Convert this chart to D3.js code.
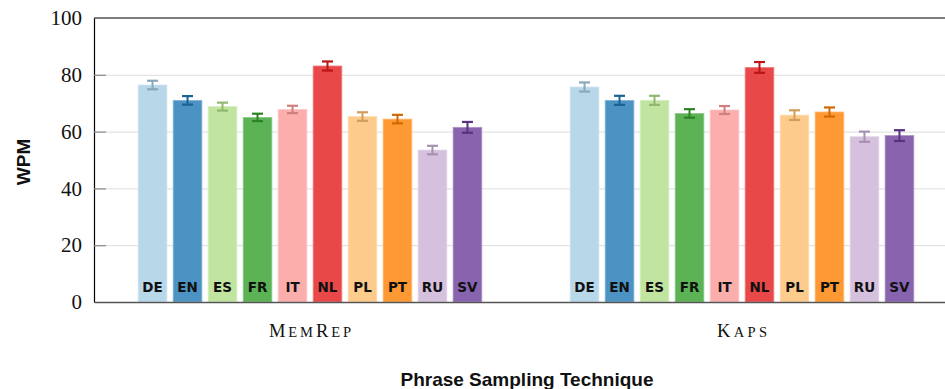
<!DOCTYPE html>
<html>
<head>
<meta charset="utf-8">
<script src="https://cdn.jsdelivr.net/npm/d3@7"></script>
<style>
  html, body { margin: 0; padding: 0; background: #fff; }
  svg { display: block; }
</style>
</head>
<body>
<svg id="chart" width="945" height="389"></svg>
<script>
// Typing speed per language, grouped by phrase sampling technique
const techniques = ["MemRep", "Kaps"];
const languages = ["DE", "EN", "ES", "FR", "IT", "NL", "PL", "PT", "RU", "SV"];
const memrepWpm = [76.4, 71.0, 68.8, 65.0, 67.8, 83.1, 65.3, 64.4, 53.5, 61.5];
const memrepErr = [1.5, 1.5, 1.4, 1.3, 1.3, 1.6, 1.5, 1.5, 1.5, 1.9];
const kapsWpm = [75.7, 71.0, 71.0, 66.4, 67.6, 82.6, 65.8, 66.9, 58.2, 58.6];
const kapsErr = [1.6, 1.6, 1.6, 1.5, 1.4, 1.9, 1.7, 1.6, 1.8, 1.9];
const yTicks = [0, 20, 40, 60, 80, 100];
const palette = ["#a6cee3", "#1f78b4", "#b2df8a", "#33a02c", "#fb9a99",
                 "#e31a1c", "#fdbf6f", "#ff7f00", "#cab2d6", "#6a3d9a"];

const series = {
  MemRep: { mean: memrepWpm, err: memrepErr },
  Kaps: { mean: kapsWpm, err: kapsErr }
};

const margin = { left: 94, top: 18, right: 958, bottom: 302 };
const svg = d3.select("#chart");

const x0 = d3.scaleBand().domain(techniques)
  .range([margin.left, margin.right]).paddingInner(0.19).paddingOuter(0.095);
const x1 = d3.scaleBand().domain(languages)
  .range([0, x0.bandwidth()]).paddingInner(0.18).paddingOuter(0.09);
const y = d3.scaleLinear().domain([0, 100]).range([margin.bottom, margin.top]);
const color = d3.scaleOrdinal().domain(languages).range(palette);

const fillOf = l => d3.interpolateRgb("#ffffff", color(l))(0.8);
const errOf = l => d3.color(color(l)).darker(0.55).formatHex();

// horizontal grid
svg.append("g")
  .attr("transform", `translate(${margin.left},0)`)
  .call(d3.axisLeft(y).tickValues(yTicks.slice(1, -1))
    .tickSize(-(margin.right - margin.left)).tickFormat(""))
  .call(g => g.select(".domain").remove())
  .call(g => g.selectAll("line").attr("stroke", "#dcdcdc").attr("stroke-width", 1));

// bars
const rows = techniques.flatMap(t => languages.map((l, i) => ({
  tech: t, lang: l, mean: series[t].mean[i], err: series[t].err[i]
})));

const bar = svg.append("g").selectAll("g").data(rows).join("g")
  .attr("transform", d => `translate(${x0(d.tech) + x1(d.lang)},0)`);

bar.append("rect")
  .attr("x", 0)
  .attr("width", x1.bandwidth())
  .attr("y", d => y(d.mean))
  .attr("height", d => y(0) - y(d.mean))
  .attr("fill", d => fillOf(d.lang))
  .attr("stroke", d => d3.interpolateRgb("#ffffff", color(d.lang))(0.55))
  .attr("stroke-width", 0.8);

// error bars
const cap = 5.5;
const cx = x1.bandwidth() / 2;
bar.append("line")
  .attr("x1", cx).attr("x2", cx)
  .attr("y1", d => y(d.mean + d.err)).attr("y2", d => y(d.mean - d.err))
  .attr("stroke", d => errOf(d.lang)).attr("stroke-width", 2);
bar.append("line")
  .attr("x1", cx - cap).attr("x2", cx + cap)
  .attr("y1", d => y(d.mean + d.err)).attr("y2", d => y(d.mean + d.err))
  .attr("stroke", d => errOf(d.lang)).attr("stroke-width", 2.2);
bar.append("line")
  .attr("x1", cx - cap).attr("x2", cx + cap)
  .attr("y1", d => y(d.mean - d.err)).attr("y2", d => y(d.mean - d.err))
  .attr("stroke", d => errOf(d.lang)).attr("stroke-width", 2.2);

// language labels at the foot of each bar
bar.append("text")
  .attr("x", cx).attr("y", y(0) - 10.5)
  .attr("text-anchor", "middle")
  .attr("font-family", "'DejaVu Sans', sans-serif")
  .attr("font-weight", "bold")
  .attr("font-size", 13.5)
  .attr("fill", "#111")
  .text(d => d.lang);

// top frame line
svg.append("line")
  .attr("x1", margin.left).attr("x2", margin.right)
  .attr("y1", margin.top).attr("y2", margin.top)
  .attr("stroke", "#000").attr("stroke-width", 1.2);

// y axis
svg.append("g")
  .attr("transform", `translate(${margin.left},0)`)
  .call(d3.axisLeft(y).tickValues(yTicks).tickSizeInner(-12).tickSizeOuter(0).tickPadding(12))
  .call(g => g.select(".domain").attr("stroke", "#000").attr("stroke-width", 1.2))
  .call(g => g.selectAll(".tick line").attr("stroke", "#8a8a8a").attr("stroke-width", 1.2))
  .call(g => g.selectAll(".tick").filter(d => d === 0 || d === 100).select("line").remove())
  .call(g => g.selectAll(".tick text")
    .attr("font-family", "'Liberation Serif', 'Times New Roman', serif")
    .attr("font-size", 21).attr("fill", "#111"));

// x axis with small-caps technique names
svg.append("g")
  .attr("transform", `translate(0,${margin.bottom})`)
  .call(d3.axisBottom(x0).tickSize(0).tickFormat(""))
  .call(g => g.select(".domain").attr("stroke", "#555").attr("stroke-width", 1.6));

const labelWidth = { MemRep: 82, Kaps: 50 };
techniques.forEach(t => {
  const txt = svg.append("text")
    .attr("x", x0(t) + x0.bandwidth() / 2)
    .attr("y", 337)
    .attr("text-anchor", "middle")
    .attr("font-family", "'Liberation Serif', 'Times New Roman', serif")
    .attr("fill", "#111")
    .attr("textLength", labelWidth[t])
    .attr("lengthAdjust", "spacing");
  [...t].forEach(ch => {
    const upper = ch === ch.toUpperCase();
    txt.append("tspan")
      .attr("font-size", upper ? 18.5 : 14.5)
      .text(ch.toUpperCase());
  });
});

// axis titles
svg.append("text")
  .attr("transform", "translate(30,162) rotate(-90)")
  .attr("text-anchor", "middle")
  .attr("font-family", "'Liberation Sans', Arial, sans-serif")
  .attr("font-weight", "bold")
  .attr("font-size", 19)
  .attr("fill", "#111")
  .text("WPM");

svg.append("text")
  .attr("x", 527).attr("y", 386)
  .attr("text-anchor", "middle")
  .attr("font-family", "'Liberation Sans', Arial, sans-serif")
  .attr("font-weight", "bold")
  .attr("font-size", 19)
  .attr("fill", "#111")
  .text("Phrase Sampling Technique");
</script>
</body>
</html>
